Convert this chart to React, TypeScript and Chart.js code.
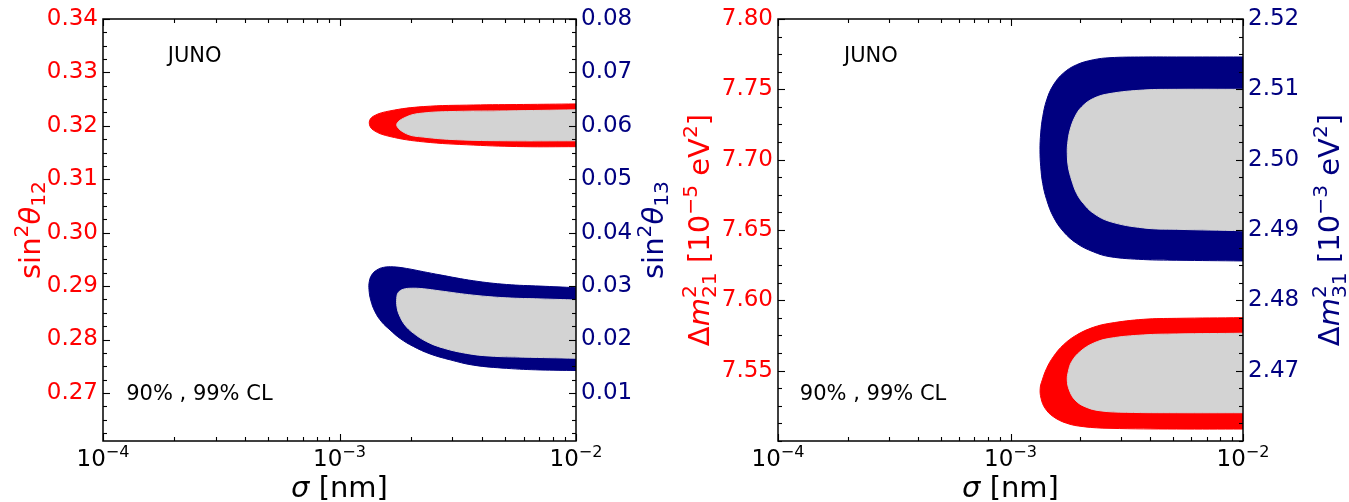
import React, { useEffect, useRef } from 'react';
import { Chart, registerables } from 'chart.js';
Chart.register(...registerables);

const FONT = "'DejaVu Sans', sans-serif";
const RED = '#ff0000';
const NAVY = '#000080';
const GRAY = '#d3d3d3';

// ---- shared x axis (sigma [nm], log) ----
const X_MIN = 1e-4;
const X_MAX = 1e-2;
const X_TICKS = [1e-4, 1e-3, 1e-2];
const X_TICK_EXP = ['−4', '−3', '−2'];

// ---- left panel: sin^2 theta12 (left axis) / sin^2 theta13 (right axis) ----
const L_Y1_MIN = 0.261;
const L_Y1_MAX = 0.34;
const L_Y1_TICKS = [0.27, 0.28, 0.29, 0.3, 0.31, 0.32, 0.33, 0.34];
const L_Y2_MIN = 0.001;
const L_Y2_MAX = 0.08;
const L_Y2_TICKS = [0.01, 0.02, 0.03, 0.04, 0.05, 0.06, 0.07, 0.08];

// contours: [sigma, value]
const S12_99: number[][] = [
  [0.01, 0.3241], [6.0e-3, 0.324], [3.68e-3, 0.3239], [2.26e-3, 0.3236], [1.635e-3, 0.3228],
  [1.39e-3, 0.3218], [1.336e-3, 0.3206], [1.39e-3, 0.3192], [1.635e-3, 0.318], [2.26e-3, 0.317],
  [3.68e-3, 0.3164], [6.0e-3, 0.3161], [0.01, 0.3161],
];
const S12_90: number[][] = [
  [0.01, 0.323], [5.09e-3, 0.3228], [3.13e-3, 0.3227], [2.26e-3, 0.3224], [1.923e-3, 0.3217],
  [1.746e-3, 0.3202], [1.923e-3, 0.3185], [2.26e-3, 0.3179], [3.13e-3, 0.3174], [5.09e-3, 0.3172],
  [0.01, 0.3172],
];
const S13_99: number[][] = [
  [0.01, 0.0297], [7.05e-3, 0.03], [5.09e-3, 0.0303], [3.68e-3, 0.031], [2.66e-3, 0.0321],
  [2.26e-3, 0.0327], [1.923e-3, 0.0333], [1.689e-3, 0.0336], [1.532e-3, 0.0335], [1.437e-3, 0.033],
  [1.369e-3, 0.0321], [1.336e-3, 0.0308], [1.333e-3, 0.0293], [1.355e-3, 0.0274], [1.413e-3, 0.0252],
  [1.508e-3, 0.0233], [1.635e-3, 0.0218], [1.803e-3, 0.0202], [2.052e-3, 0.0187], [2.414e-3, 0.0173],
  [2.933e-3, 0.0162], [3.68e-3, 0.0152], [5.09e-3, 0.0146], [7.05e-3, 0.0143], [0.01, 0.0142],
];
const S13_90: number[][] = [
  [0.01, 0.0274], [7.05e-3, 0.0276], [5.09e-3, 0.0278], [3.68e-3, 0.0283], [2.66e-3, 0.0291],
  [2.26e-3, 0.0295], [2.02e-3, 0.0296], [1.861e-3, 0.0294], [1.773e-3, 0.0288], [1.746e-3, 0.0277],
  [1.751e-3, 0.0261], [1.79e-3, 0.0246], [1.892e-3, 0.0227], [2.052e-3, 0.0212], [2.337e-3, 0.0196],
  [2.747e-3, 0.0184], [3.449e-3, 0.0174], [4.33e-3, 0.0169], [5.99e-3, 0.0167], [0.01, 0.0165],
];

// ---- right panel: dm21^2 (left axis) / dm31^2 (right axis) ----
const R_Y1_MIN = 7.5;
const R_Y1_MAX = 7.8;
const R_Y1_TICKS = [7.55, 7.6, 7.65, 7.7, 7.75, 7.8];
const R_Y2_MIN = 2.46;
const R_Y2_MAX = 2.52;
const R_Y2_TICKS = [2.47, 2.48, 2.49, 2.5, 2.51, 2.52];

const DM21_99: number[][] = [
  [0.01, 7.5877], [5.185e-3, 7.5872], [3.726e-3, 7.5865], [2.679e-3, 7.5837], [2.27e-3, 7.5808],
  [1.926e-3, 7.5754], [1.687e-3, 7.5683], [1.528e-3, 7.5599], [1.431e-3, 7.5517], [1.37e-3, 7.5434],
  [1.342e-3, 7.5375], [1.353e-3, 7.5304], [1.408e-3, 7.5233], [1.528e-3, 7.5173], [1.745e-3, 7.5126],
  [2.056e-3, 7.5102], [2.679e-3, 7.509], [5.185e-3, 7.5085], [0.01, 7.5085],
];
const DM21_90: number[][] = [
  [0.01, 7.5766], [5.185e-3, 7.5761], [3.726e-3, 7.5754], [2.679e-3, 7.573], [2.27e-3, 7.5695],
  [1.991e-3, 7.5635], [1.833e-3, 7.5564], [1.773e-3, 7.5493], [1.755e-3, 7.5434], [1.79e-3, 7.5363],
  [1.894e-3, 7.5292], [2.091e-3, 7.5244], [2.426e-3, 7.5215], [3.16e-3, 7.5204], [5.185e-3, 7.5201],
  [0.01, 7.5201],
];
const DM31_99: number[][] = [
  [0.01, 2.5146], [5.185e-3, 2.5146], [3.726e-3, 2.5146], [2.679e-3, 2.5145], [2.27e-3, 2.5142],
  [1.926e-3, 2.5135], [1.687e-3, 2.5123], [1.528e-3, 2.5106], [1.431e-3, 2.5085], [1.376e-3, 2.5061],
  [1.349e-3, 2.5038], [1.339e-3, 2.5014], [1.349e-3, 2.499], [1.376e-3, 2.4966], [1.431e-3, 2.4943],
  [1.528e-3, 2.4919], [1.687e-3, 2.4898], [1.926e-3, 2.4881], [2.27e-3, 2.4869], [2.679e-3, 2.4862],
  [3.726e-3, 2.4858], [5.185e-3, 2.4857], [0.01, 2.4856],
];
const DM31_90: number[][] = [
  [0.01, 2.51], [5.185e-3, 2.51], [3.726e-3, 2.5099], [2.679e-3, 2.5094], [2.27e-3, 2.5087],
  [2.024e-3, 2.5075], [1.894e-3, 2.5061], [1.803e-3, 2.5042], [1.762e-3, 2.5023], [1.755e-3, 2.5009],
  [1.773e-3, 2.499], [1.833e-3, 2.4971], [1.926e-3, 2.4952], [2.056e-3, 2.4938], [2.27e-3, 2.4924],
  [2.679e-3, 2.4912], [3.726e-3, 2.4903], [5.185e-3, 2.4901], [0.01, 2.4899],
];

const LABEL_JUNO = 'JUNO';
const LABEL_CL = '90% , 99% CL';

const TICK_SIZE = 23;
const TITLE_SIZE = 29;
const NOTE_SIZE = 21;

type Run = { t?: string; it?: boolean; sup?: string; sub?: string };

function runWidth(ctx: CanvasRenderingContext2D, r: Run, size: number) {
  if (r.t !== undefined) {
    ctx.font = `${r.it ? 'italic ' : ''}${size}px ${FONT}`;
    return ctx.measureText(r.t).width;
  }
  ctx.font = `${size * 0.7}px ${FONT}`;
  return Math.max(r.sup ? ctx.measureText(r.sup).width : 0, r.sub ? ctx.measureText(r.sub).width : 0);
}

function drawRich(ctx: CanvasRenderingContext2D, runs: Run[], x: number, y: number, size: number, color: string, rot = 0, align = 'center') {
  ctx.save();
  ctx.translate(x, y);
  ctx.rotate(rot);
  ctx.fillStyle = color;
  ctx.textBaseline = 'alphabetic';
  ctx.textAlign = 'left';
  const widths = runs.map((r) => runWidth(ctx, r, size));
  const total = widths.reduce((a, b) => a + b, 0);
  let cx = align === 'center' ? -total / 2 : align === 'left' ? 0 : -total;
  runs.forEach((r, i) => {
    if (r.t !== undefined) {
      ctx.font = `${r.it ? 'italic ' : ''}${size}px ${FONT}`;
      ctx.fillText(r.t, cx, 0);
    } else {
      ctx.font = `${size * 0.7}px ${FONT}`;
      const both = !!(r.sup && r.sub);
      if (r.sup) ctx.fillText(r.sup, cx, -size * (both ? 0.45 : 0.4));
      if (r.sub) ctx.fillText(r.sub, cx, size * (both ? 0.25 : 0.18));
    }
    cx += widths[i];
  });
  ctx.restore();
}

function minorValues(min: number, max: number, step: number) {
  const out: number[] = [];
  for (let k = Math.ceil(min / step - 1e-9); k * step <= max + 1e-9; k++) out.push(k * step);
  return out;
}

type PanelCfg = {
  canvasLeft: number;
  width: number;
  leftW: number;
  rightW: number;
  y1: { min: number; max: number; ticks: number[]; minor: number };
  y2: { min: number; max: number; ticks: number[]; minor: number };
  sets: { pts: number[][]; color: string; axis: string; order: number }[];
  y1Title: Run[];
  y2Title: Run[];
  y1TitleX: number;
  y2TitleX: number;
  junoFx: number;
  clFx: number;
};

function makeConfig(cfg: PanelCfg): any {
  const MAJ = 7;
  const MIN = 4;
  const plugin = {
    id: 'panelDeco',
    afterDatasetsDraw(chart: any) {
      const ctx: CanvasRenderingContext2D = chart.ctx;
      const { left, right, top, bottom } = chart.chartArea;
      const xs = chart.scales.x;
      const y1 = chart.scales.y;
      const y2 = chart.scales.y2;
      ctx.save();
      ctx.strokeStyle = '#000';
      ctx.lineWidth = 1.1;
      const seg = (a: number, b: number, c: number, d: number) => {
        ctx.beginPath();
        ctx.moveTo(a, b);
        ctx.lineTo(c, d);
        ctx.stroke();
      };
      for (const v of X_TICKS) {
        const p = Math.round(xs.getPixelForValue(v)) + 0.5;
        seg(p, bottom, p, bottom - MAJ);
        seg(p, top, p, top + MAJ);
      }
      for (const d of [1e-4, 1e-3]) {
        for (let k = 2; k <= 9; k++) {
          const p = Math.round(xs.getPixelForValue(k * d)) + 0.5;
          seg(p, bottom, p, bottom - MIN);
          seg(p, top, p, top + MIN);
        }
      }
      for (const v of minorValues(cfg.y1.min, cfg.y1.max, cfg.y1.minor)) {
        const p = Math.round(y1.getPixelForValue(v)) + 0.5;
        const isMaj = cfg.y1.ticks.some((t) => Math.abs(t - v) < cfg.y1.minor / 10);
        seg(left, p, left + (isMaj ? MAJ : MIN), p);
      }
      for (const v of minorValues(cfg.y2.min, cfg.y2.max, cfg.y2.minor)) {
        const p = Math.round(y2.getPixelForValue(v)) + 0.5;
        const isMaj = cfg.y2.ticks.some((t) => Math.abs(t - v) < cfg.y2.minor / 10);
        seg(right, p, right - (isMaj ? MAJ : MIN), p);
      }
      ctx.lineWidth = 1.5;
      ctx.strokeRect(left, top, right - left, bottom - top);
      ctx.restore();
    },
    afterDraw(chart: any) {
      const ctx: CanvasRenderingContext2D = chart.ctx;
      const { left, right, top, bottom } = chart.chartArea;
      const xs = chart.scales.x;
      X_TICKS.forEach((v, i) => {
        drawRich(ctx, [{ t: '10' }, { sup: X_TICK_EXP[i] }], xs.getPixelForValue(v), 466, TICK_SIZE, '#000');
      });
      drawRich(ctx, [{ t: 'σ', it: true }, { t: ' [nm]' }], (left + right) / 2, 497, TITLE_SIZE, '#000');
      const cy = (top + bottom) / 2;
      drawRich(ctx, cfg.y1Title, cfg.y1TitleX, cy, TITLE_SIZE, RED, -Math.PI / 2);
      drawRich(ctx, cfg.y2Title, cfg.y2TitleX, cy, TITLE_SIZE, NAVY, -Math.PI / 2);
      const w = right - left;
      drawRich(ctx, [{ t: LABEL_JUNO }], left + cfg.junoFx * w, 62, NOTE_SIZE, '#000', 0, 'left');
      drawRich(ctx, [{ t: LABEL_CL }], left + cfg.clFx * w, 400, NOTE_SIZE, '#000', 0, 'left');
    },
  };

  const yScale = (ax: { min: number; max: number; ticks: number[] }, pos: string, color: string, w: number) => ({
    type: 'linear',
    position: pos,
    min: ax.min,
    max: ax.max,
    grid: { display: false, drawTicks: false },
    border: { display: false },
    ticks: {
      color,
      font: { family: FONT, size: TICK_SIZE },
      padding: 5,
      autoSkip: false,
      includeBounds: false,
      callback: (v: any) => Number(v).toFixed(2),
    },
    afterBuildTicks: (s: any) => {
      s.ticks = ax.ticks.map((value) => ({ value }));
    },
    afterFit: (s: any) => {
      s.width = w;
    },
  });

  return {
    type: 'line',
    data: {
      datasets: cfg.sets.map((s) => ({
        data: s.pts.map(([x, y]) => ({ x, y })),
        yAxisID: s.axis,
        backgroundColor: s.color,
        borderColor: s.color,
        borderWidth: 1,
        pointRadius: 0,
        tension: 0.4,
        fill: 'shape',
        order: s.order,
      })),
    },
    options: {
      responsive: false,
      animation: false,
      events: [],
      layout: { padding: { top: 19, left: 0, right: 0, bottom: 0 } },
      plugins: { legend: { display: false }, tooltip: { enabled: false } },
      scales: {
        x: {
          type: 'logarithmic',
          position: 'bottom',
          min: X_MIN,
          max: X_MAX,
          grid: { display: false, drawTicks: false },
          border: { display: false },
          ticks: { display: false },
          afterFit: (s: any) => {
            s.height = 61;
          },
        },
        y: yScale(cfg.y1, 'left', RED, cfg.leftW),
        y2: yScale(cfg.y2, 'right', NAVY, cfg.rightW),
      },
    },
    plugins: [plugin],
  };
}

const LEFT_PANEL: PanelCfg = {
  canvasLeft: 0,
  width: 680,
  leftW: 103,
  rightW: 104,
  y1: { min: L_Y1_MIN, max: L_Y1_MAX, ticks: L_Y1_TICKS, minor: 0.0025 },
  y2: { min: L_Y2_MIN, max: L_Y2_MAX, ticks: L_Y2_TICKS, minor: 0.0025 },
  sets: [
    { pts: S12_90, color: GRAY, axis: 'y', order: 0 },
    { pts: S13_90, color: GRAY, axis: 'y2', order: 0 },
    { pts: S12_99, color: RED, axis: 'y', order: 1 },
    { pts: S13_99, color: NAVY, axis: 'y2', order: 1 },
  ],
  y1Title: [{ t: 'sin' }, { sup: '2' }, { t: 'θ', it: true }, { sub: '12' }],
  y2Title: [{ t: 'sin' }, { sup: '2' }, { t: 'θ', it: true }, { sub: '13' }],
  y1TitleX: 40,
  y2TitleX: 663,
  junoFx: 0.137,
  clFx: 0.049,
};

const RIGHT_PANEL: PanelCfg = {
  canvasLeft: 680,
  width: 669,
  leftW: 98,
  rightW: 106,
  y1: { min: R_Y1_MIN, max: R_Y1_MAX, ticks: R_Y1_TICKS, minor: 0.0125 },
  y2: { min: R_Y2_MIN, max: R_Y2_MAX, ticks: R_Y2_TICKS, minor: 0.0025 },
  sets: [
    { pts: DM21_90, color: GRAY, axis: 'y', order: 0 },
    { pts: DM31_90, color: GRAY, axis: 'y2', order: 0 },
    { pts: DM21_99, color: RED, axis: 'y', order: 1 },
    { pts: DM31_99, color: NAVY, axis: 'y2', order: 1 },
  ],
  y1Title: [{ t: 'Δ' }, { t: 'm', it: true }, { sup: '2', sub: '21' }, { t: ' [10' }, { sup: '−5' }, { t: ' eV' }, { sup: '2' }, { t: ']' }],
  y2Title: [{ t: 'Δ' }, { t: 'm', it: true }, { sup: '2', sub: '31' }, { t: ' [10' }, { sup: '−3' }, { t: ' eV' }, { sup: '2' }, { t: ']' }],
  y1TitleX: 29,
  y2TitleX: 659,
  junoFx: 0.142,
  clFx: 0.047,
};

function Panel({ cfg }: { cfg: PanelCfg }) {
  const ref = useRef<HTMLCanvasElement>(null);
  useEffect(() => {
    if (!ref.current) return;
    const chart = new Chart(ref.current, makeConfig(cfg));
    return () => chart.destroy();
  }, [cfg]);
  return (
    <canvas
      ref={ref}
      width={cfg.width}
      height={502}
      style={{ position: 'absolute', left: cfg.canvasLeft, top: 0, width: cfg.width, height: 502 }}
    />
  );
}

export default function App() {
  return (
    <div style={{ position: 'fixed', left: 0, top: 0, width: 1349, height: 502, background: '#fff', overflow: 'hidden' }}>
      <Panel cfg={LEFT_PANEL} />
      <Panel cfg={RIGHT_PANEL} />
    </div>
  );
}
